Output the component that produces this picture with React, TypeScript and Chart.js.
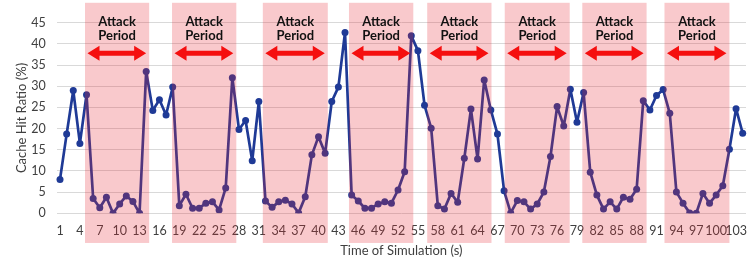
import React, { useEffect, useRef } from "react";
import { Chart, registerables } from "chart.js";

Chart.register(...registerables);

const seconds: string[] = Array.from({ length: 104 }, (_, i) => String(i + 1));

const cacheHitRatio: number[] = [
  8, 18.7, 29, 16.5, 28, 3.5, 1.3, 3.8, 0, 2.2,
  4.1, 2.8, 0, 33.5, 24.3, 26.8, 23.2, 29.8, 1.8, 4.5,
  1.2, 1.2, 2.4, 2.7, 0.8, 6, 32, 19.8, 21.9, 12.4,
  26.4, 2.9, 1.4, 2.7, 3.1, 2.2, 0.1, 3.9, 13.8, 18.1,
  14.2, 26.4, 29.8, 42.7, 4.3, 2.9, 1.2, 1.2, 2.2, 2.7,
  2.4, 5.5, 9.8, 41.9, 38.4, 25.5, 20.1, 1.8, 1, 4.7,
  2.6, 13, 24.6, 12.8, 31.5, 24.4, 18.7, 5.3, 0.1, 3,
  2.7, 1, 2.2, 5, 13.4, 25.2, 20.6, 29.3, 21.5, 28.5,
  9.7, 4.3, 1, 2.7, 1, 3.8, 3.3, 5.7, 26.6, 24.4,
  27.8, 29.2, 23.6, 5, 2.4, 0.1, 0, 4.7, 2.4, 4.3,
  6.5, 15.1, 24.7, 18.9,
];

const yTicks: number[] = [0, 5, 10, 15, 20, 25, 30, 35, 40, 45];

// attack periods in category-index units (0-based)
const attackStart: number[] = [3.77, 16.9, 30.6, 43.6, 55.4, 67.1, 78.8, 91.2];
const attackEnd: number[] = [13.45, 26.6, 40.4, 53.3, 65.1, 76.9, 88.5, 101.0];
const attackLabel: string[] = ["Attack", "Period"];

const FONT = "Lato, 'Open Sans', sans-serif";

const attackPlugin = {
  id: "attackPeriods",
  afterDatasetsDraw(chart: any) {
    const { ctx } = chart;
    const xs = chart.scales.x;
    const ys = chart.scales.y;
    const top = ys.getPixelForValue(49.7);
    const bottom = ys.getPixelForValue(-7);
    const arrowY = ys.getPixelForValue(37.8);
    const l1 = ys.getPixelForValue(45.25);
    const l2 = ys.getPixelForValue(42.0);
    ctx.save();
    for (let i = 0; i < attackStart.length; i++) {
      const x0 = xs.getPixelForValue(attackStart[i]);
      const x1 = xs.getPixelForValue(attackEnd[i]);
      ctx.fillStyle = "rgba(230, 40, 50, 0.25)";
      ctx.fillRect(x0, top, x1 - x0, bottom - top);

      // double arrow
      const a0 = x0 + 2.5;
      const a1 = x1 - 3;
      const headL = 12;
      const headH = 7.5;
      const shaft = 2.5;
      ctx.fillStyle = "#f50f0f";
      ctx.beginPath();
      ctx.moveTo(a0, arrowY);
      ctx.lineTo(a0 + headL, arrowY - headH);
      ctx.lineTo(a0 + headL, arrowY - shaft);
      ctx.lineTo(a1 - headL, arrowY - shaft);
      ctx.lineTo(a1 - headL, arrowY - headH);
      ctx.lineTo(a1, arrowY);
      ctx.lineTo(a1 - headL, arrowY + headH);
      ctx.lineTo(a1 - headL, arrowY + shaft);
      ctx.lineTo(a0 + headL, arrowY + shaft);
      ctx.lineTo(a0 + headL, arrowY + headH);
      ctx.closePath();
      ctx.fill();

      ctx.fillStyle = "#111111";
      ctx.font = `bold 13px ${FONT}`;
      ctx.textAlign = "center";
      ctx.textBaseline = "middle";
      const cx = (x0 + x1) / 2;
      ctx.fillText(attackLabel[0], cx, l1);
      ctx.fillText(attackLabel[1], cx, l2);
    }
    ctx.restore();
  },
};

export default function App() {
  const ref = useRef<HTMLCanvasElement | null>(null);

  useEffect(() => {
    document.body.style.margin = "0";
    const canvas = ref.current;
    if (!canvas) return;
    const chart = new Chart(canvas, {
      type: "line",
      data: {
        labels: seconds,
        datasets: [
          {
            data: cacheHitRatio,
            borderColor: "#1f3a96",
            backgroundColor: "#1f3a96",
            borderWidth: 2.7,
            borderJoinStyle: "round",
            borderCapStyle: "round",
            pointRadius: 3.5,
            pointBorderWidth: 0,
            pointBackgroundColor: "#1f3a96",
            tension: 0,
          },
        ],
      },
      options: {
        animation: false,
        responsive: false,
        maintainAspectRatio: false,
        layout: { padding: { left: 0, right: 1.4, top: 22.7, bottom: 0 } },
        plugins: {
          legend: { display: false },
          tooltip: { enabled: false },
          title: { display: false },
        },
        scales: {
          x: {
            type: "category",
            offset: true,
            grid: { display: false, drawTicks: false },
            border: { display: false },
            ticks: {
              autoSkip: false,
              maxRotation: 0,
              minRotation: 0,
              padding: 10,
              color: "#404040",
              font: { family: FONT, size: 12.5 },
              callback: function (this: any, value: any, index: number) {
                return index % 3 === 0 ? this.getLabelForValue(value) : "";
              },
            },
            title: {
              display: true,
              text: "Time of Simulation (s)",
              color: "#404040",
              font: { family: FONT, size: 13 },
              padding: { top: 0, bottom: 5.5 },
            },
            afterFit: (scale: any) => {
              scale.height = 50.7;
              scale.paddingLeft = 0;
              scale.paddingRight = 0;
            },
          },
          y: {
            min: 0,
            max: 45,
            afterBuildTicks: (scale: any) => {
              scale.ticks = yTicks.map((v) => ({ value: v }));
            },
            grid: { color: "#d9d9d9", drawTicks: false, lineWidth: 1 },
            border: { display: false },
            ticks: {
              padding: 11,
              color: "#404040",
              font: { family: FONT, size: 12.5 },
            },
            title: {
              display: true,
              text: "Cache Hit Ratio (%)",
              color: "#404040",
              font: { family: FONT, size: 13 },
              padding: { top: 13.9, bottom: 0 },
            },
            afterFit: (scale: any) => {
              scale.width = 56.7;
              scale.paddingTop = 0;
              scale.paddingBottom = 0;
            },
          },
        },
      },
      plugins: [attackPlugin],
    });
    return () => chart.destroy();
  }, []);

  return (
    <div style={{ width: 750, height: 264 }}>
      <canvas ref={ref} width={750} height={264} style={{ display: "block" }} />
    </div>
  );
}
